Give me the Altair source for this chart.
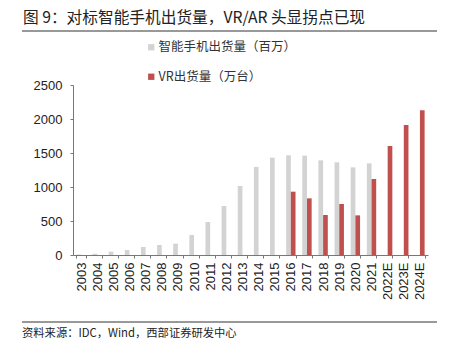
import altair as alt
import pandas as pd

years = ["2003", "2004", "2005", "2006", "2007", "2008", "2009", "2010", "2011",
         "2012", "2013", "2014", "2015", "2016", "2017", "2018", "2019", "2020",
         "2021", "2022E", "2023E", "2024E"]
phone_years = years[:19]
phone_values = [8, 20, 49, 73, 118, 147, 167, 294, 485, 720, 1015, 1294, 1431,
                1466, 1461, 1392, 1363, 1289, 1348]
vr_years = ["2016", "2017", "2018", "2019", "2020", "2021", "2022E", "2023E", "2024E"]
vr_values = [931, 833, 588, 750, 583, 1118, 1603, 1912, 2127]

s_phone = "智能手机出货量（百万）"
s_vr = "VR出货量（万台）"
title_text = "图 9：对标智能手机出货量，VR/AR 头显拐点已现"
source_text = "资料来源：IDC，Wind，西部证券研发中心"

rows = [{"year": y, "series": s_phone, "value": v} for y, v in zip(phone_years, phone_values)]
rows += [{"year": y, "series": s_vr, "value": v} for y, v in zip(vr_years, vr_values)]
df = pd.DataFrame(rows)

FONT = "Liberation Sans"
CJK = "Noto Sans CJK SC"

bars = alt.Chart(df).mark_bar().encode(
    x=alt.X("year:N", sort=years,
            scale=alt.Scale(domain=years, paddingInner=0.42, paddingOuter=0.21),
            axis=alt.Axis(title=None, labelAngle=-90, labelFontSize=13, labelFont=FONT,
                          labelColor="#222", labelPadding=4, tickBand="extent",
                          tickSize=3, tickColor="#777", domainColor="#777")),
    xOffset=alt.XOffset("series:N", scale=alt.Scale(domain=[s_phone, s_vr])),
    y=alt.Y("value:Q", scale=alt.Scale(domain=[0, 2500]),
            axis=alt.Axis(title=None, values=[0, 500, 1000, 1500, 2000, 2500], grid=False,
                          format="d",
                          labelFontSize=13, labelFont=FONT, labelColor="#222",
                          labelPadding=8, tickSize=3, tickColor="#777", domainColor="#777")),
    color=alt.Color("series:N", scale=alt.Scale(domain=[s_phone, s_vr],
                                                 range=["#d3d3d3", "#c0504d"]),
                    legend=alt.Legend(title=None, orient="none", legendX=72, legendY=-44,
                                      direction="vertical", symbolType="square",
                                      symbolSize=40, symbolStrokeWidth=0,
                                      labelFont=CJK, labelFontSize=12.5, labelColor="#333",
                                      rowPadding=16.5, labelOffset=1)),
)

one = pd.DataFrame({"t": [0]})

title = alt.Chart(pd.DataFrame({"t": [title_text]})).mark_text(
    align="left", baseline="middle", font=CJK, fontSize=15.7, color="#222"
).encode(text="t:N", x=alt.value(-50), y=alt.value(-67))

source = alt.Chart(pd.DataFrame({"t": [source_text]})).mark_text(
    align="left", baseline="middle", font=CJK, fontSize=11.3, color="#222"
).encode(text="t:N", x=alt.value(-51), y=alt.value(249))

line_top = alt.Chart(one).mark_rule(color="#333", strokeWidth=1).encode(
    x=alt.value(-51), x2=alt.value(364), y=alt.value(-54))
line_bot = alt.Chart(one).mark_rule(color="#333", strokeWidth=1).encode(
    x=alt.value(-51), x2=alt.value(364), y=alt.value(237))

chart = alt.layer(bars, title, source, line_top, line_bot).properties(
    width=355, height=170,
    autosize=alt.AutoSizeParams(type="none"),
    padding={"left": 73, "top": 85, "right": 24, "bottom": 91},
    background="white",
).configure_view(stroke=None)

chart.save("out.html", embed_options={"renderer": "svg", "actions": False})
